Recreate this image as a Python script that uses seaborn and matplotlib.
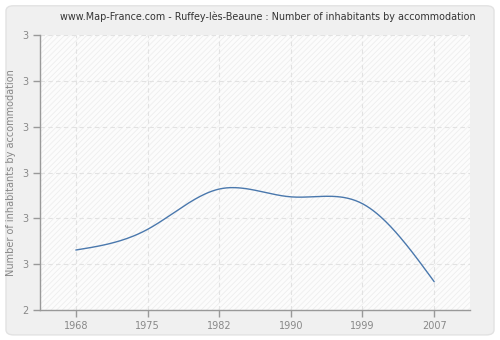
import numpy as np
import pandas as pd
import seaborn as sns
import matplotlib
matplotlib.use("Agg")
import matplotlib.pyplot as plt
from matplotlib.patches import FancyBboxPatch, Rectangle

years = ["1968", "1975", "1982", "1990", "1999", "2007"]
values = [2.131, 2.176, 2.264, 2.247, 2.232, 2.062]
ytick_values = [2.0, 2.1, 2.2, 2.3, 2.4, 2.5, 2.6]
ytick_labels = ["2", "3", "3", "3", "3", "3", "3"]
title = "www.Map-France.com - Ruffey-lès-Beaune : Number of inhabitants by accommodation"
ylabel = "Number of inhabitants by accommodation"

sns.set_theme(style="white")
plt.rcParams['font.family'] = ['DejaVu Sans']
plt.rcParams['hatch.color'] = '#ececec'
plt.rcParams['hatch.linewidth'] = 0.6

fig = plt.figure(figsize=(5, 3.4), dpi=100)
fig.patch.set_facecolor('white')
bg = FancyBboxPatch((0.012, 0.015), 0.976, 0.968,
                    boxstyle="round,pad=0,rounding_size=0.015",
                    transform=fig.transFigure, facecolor='#f0f0f0',
                    edgecolor='#e2e2e2', linewidth=1.0, zorder=-10)
fig.patches.append(bg)

ax = fig.add_axes([0.08, 0.088, 0.86, 0.809])
ax.set_zorder(1)
ax.set_facecolor('#fcfcfc')
ax.add_patch(Rectangle((0, 0), 1, 1, transform=ax.transAxes, facecolor='none',
                       hatch='//////', edgecolor='#eeeeee', linewidth=0, zorder=0))

# Natural cubic spline rendering of the line through the data points
xs = np.arange(len(values), dtype=float)
ys = np.array(values, dtype=float)
n = len(xs)
A = np.zeros((n, n))
rhs = np.zeros(n)
A[0, 0] = 1.0
A[-1, -1] = 1.0
for i in range(1, n - 1):
    A[i, i - 1] = 1.0
    A[i, i] = 4.0
    A[i, i + 1] = 1.0
    rhs[i] = 6.0 * (ys[i + 1] - 2 * ys[i] + ys[i - 1])
M = np.linalg.solve(A, rhs)
cx, cy = [], []
t = np.linspace(0, 1, 60)
for i in range(n - 1):
    seg = (M[i] * (1 - t) ** 3 + M[i + 1] * t ** 3) / 6.0 + \
          (ys[i] - M[i] / 6.0) * (1 - t) + (ys[i + 1] - M[i + 1] / 6.0) * t
    cx.extend(xs[i] + t)
    cy.extend(seg)
curve = pd.DataFrame({"x": cx, "y": cy})
sns.lineplot(data=curve, x="x", y="y", ax=ax, color='#4a78ad', linewidth=1.0,
             sort=False, estimator=None, zorder=3)

ax.set_xlim(-0.5, len(years) - 0.5)
ax.set_ylim(ytick_values[0], ytick_values[-1])
ax.set_xticks(xs)
ax.set_xticklabels(years)
ax.set_yticks(ytick_values)
ax.set_yticklabels(ytick_labels)
ax.grid(True, color='#e2e2e2', linestyle=(0, (4, 3)), linewidth=0.8)
ax.set_axisbelow(True)
for s in ['top', 'right']:
    ax.spines[s].set_visible(False)
for s in ['left', 'bottom']:
    ax.spines[s].set_color('#999999')
    ax.spines[s].set_linewidth(1.0)
ax.tick_params(axis='both', colors='#999999', labelcolor='#888888', labelsize=7,
               length=5, width=1, direction='out', left=True, bottom=True, pad=3)
ax.set_xlabel("")
ax.set_ylabel(ylabel, color='#888888', fontsize=7, labelpad=5)
fig.text(0.535, 0.952, title, ha='center', va='center', fontsize=6.9, color='#333333')

fig.savefig("out.png", dpi=100)
